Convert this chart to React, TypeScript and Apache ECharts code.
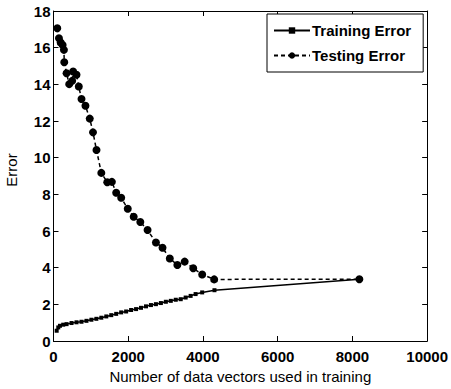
import React, { useEffect, useRef } from "react";
import * as echarts from "echarts";

const xTicks = [0, 2000, 4000, 6000, 8000, 10000];
const yTicks = [0, 2, 4, 6, 8, 10, 12, 14, 16, 18];

const trainX = [85, 128, 173, 260, 350, 483, 616, 749, 882, 1014, 1147, 1280, 1413, 1546, 1678, 1811, 1944, 2077, 2210, 2342, 2475, 2608, 2741, 2874, 3007, 3139, 3272, 3405, 3537, 3670, 3803, 3979, 4308, 8186];
const trainY = [0.56, 0.74, 0.83, 0.89, 0.92, 0.98, 1.02, 1.05, 1.10, 1.16, 1.21, 1.27, 1.34, 1.41, 1.48, 1.56, 1.61, 1.69, 1.74, 1.81, 1.89, 1.96, 2.01, 2.07, 2.14, 2.19, 2.25, 2.28, 2.37, 2.46, 2.56, 2.65, 2.77, 3.37];

const testX = [101, 146, 191, 244, 279, 288, 350, 420, 500, 526, 616, 677, 749, 855, 970, 1057, 1150, 1280, 1439, 1562, 1678, 1811, 1987, 2146, 2324, 2518, 2741, 2917, 3113, 3315, 3511, 3740, 3979, 4300, 8186];
const testY = [17.06, 16.51, 16.28, 16.15, 15.88, 15.2, 14.6, 14.01, 14.19, 14.7, 14.52, 13.88, 13.2, 12.83, 12.13, 11.38, 10.42, 9.17, 8.66, 8.68, 8.09, 7.81, 7.21, 6.78, 6.49, 6.05, 5.37, 5.09, 4.50, 4.15, 4.33, 3.97, 3.63, 3.36, 3.37];

const FONT = "Liberation Sans";

export default function App() {
  const ref = useRef<HTMLDivElement>(null);
  useEffect(() => {
    if (!ref.current) return;
    const chart = echarts.init(ref.current, null, { renderer: "svg" });
    const axisCommon = {
      type: "value" as const,
      axisLine: { show: true, onZero: false, lineStyle: { color: "#000", width: 1 } },
      axisTick: { show: true, inside: true, length: 5, lineStyle: { color: "#000" } },
      splitLine: { show: false },
    };
    const tickLabel = {
      show: true,
      fontFamily: FONT,
      fontWeight: "bold" as const,
      fontSize: 15,
      color: "#000",
      formatter: (v: number) => String(v),
    };
    chart.setOption({
      animation: false,
      backgroundColor: "#fff",
      grid: { left: 53.5, right: 21, top: 11, bottom: 47 },
      xAxis: [
        {
          ...axisCommon,
          min: xTicks[0], max: xTicks[xTicks.length - 1], interval: 2000,
          position: "bottom",
          name: "Number of data vectors used in training",
          nameLocation: "middle",
          nameGap: 28,
          nameTextStyle: { fontFamily: FONT, fontSize: 15, color: "#000" },
          axisLabel: { ...tickLabel, margin: 8 },
        },
        {
          ...axisCommon,
          min: xTicks[0], max: xTicks[xTicks.length - 1], interval: 2000,
          position: "top",
          axisLabel: { show: false },
        },
      ],
      yAxis: [
        {
          ...axisCommon,
          min: yTicks[0], max: yTicks[yTicks.length - 1], interval: 2,
          position: "left",
          axisLabel: { ...tickLabel, margin: 3 },
        },
        {
          ...axisCommon,
          min: yTicks[0], max: yTicks[yTicks.length - 1], interval: 2,
          position: "right",
          axisLabel: { show: false },
        },
      ],
      legend: {
        orient: "vertical",
        left: 267,
        top: 14,
        backgroundColor: "#fff",
        borderColor: "#000",
        borderWidth: 1,
        borderRadius: 0,
        padding: [9, 12, 9, 6],
        itemGap: 10,
        itemWidth: 36,
        itemHeight: 8,
        textStyle: { fontFamily: FONT, fontWeight: "bold", fontSize: 15, color: "#000", padding: [0, 0, 0, -3] },
        data: ["Training Error", "Testing Error"],
      },
      graphic: [
        {
          type: "text",
          x: 11,
          y: 170,
          rotation: Math.PI / 2,
          style: { text: "Error", font: "15px 'Liberation Sans'", fill: "#000", align: "center", verticalAlign: "middle" },
        },
      ],
      series: [
        {
          name: "Training Error",
          type: "line",
          data: trainX.map((x, i) => [x, trainY[i]]),
          symbol: "rect",
          symbolSize: 4,
          showAllSymbol: true,
          itemStyle: { color: "#000" },
          lineStyle: { color: "#000", width: 1.5, type: "solid" },
        },
        {
          name: "Testing Error",
          type: "line",
          data: testX.map((x, i) => [x, testY[i]]),
          symbol: "circle",
          symbolSize: 8,
          showAllSymbol: true,
          itemStyle: { color: "#000" },
          lineStyle: { color: "#000", width: 1.5, type: [4, 3] },
        },
      ],
    });
    return () => chart.dispose();
  }, []);
  return <div ref={ref} style={{ position: "absolute", left: 0, top: 0, width: 451, height: 389 }} />;
}
